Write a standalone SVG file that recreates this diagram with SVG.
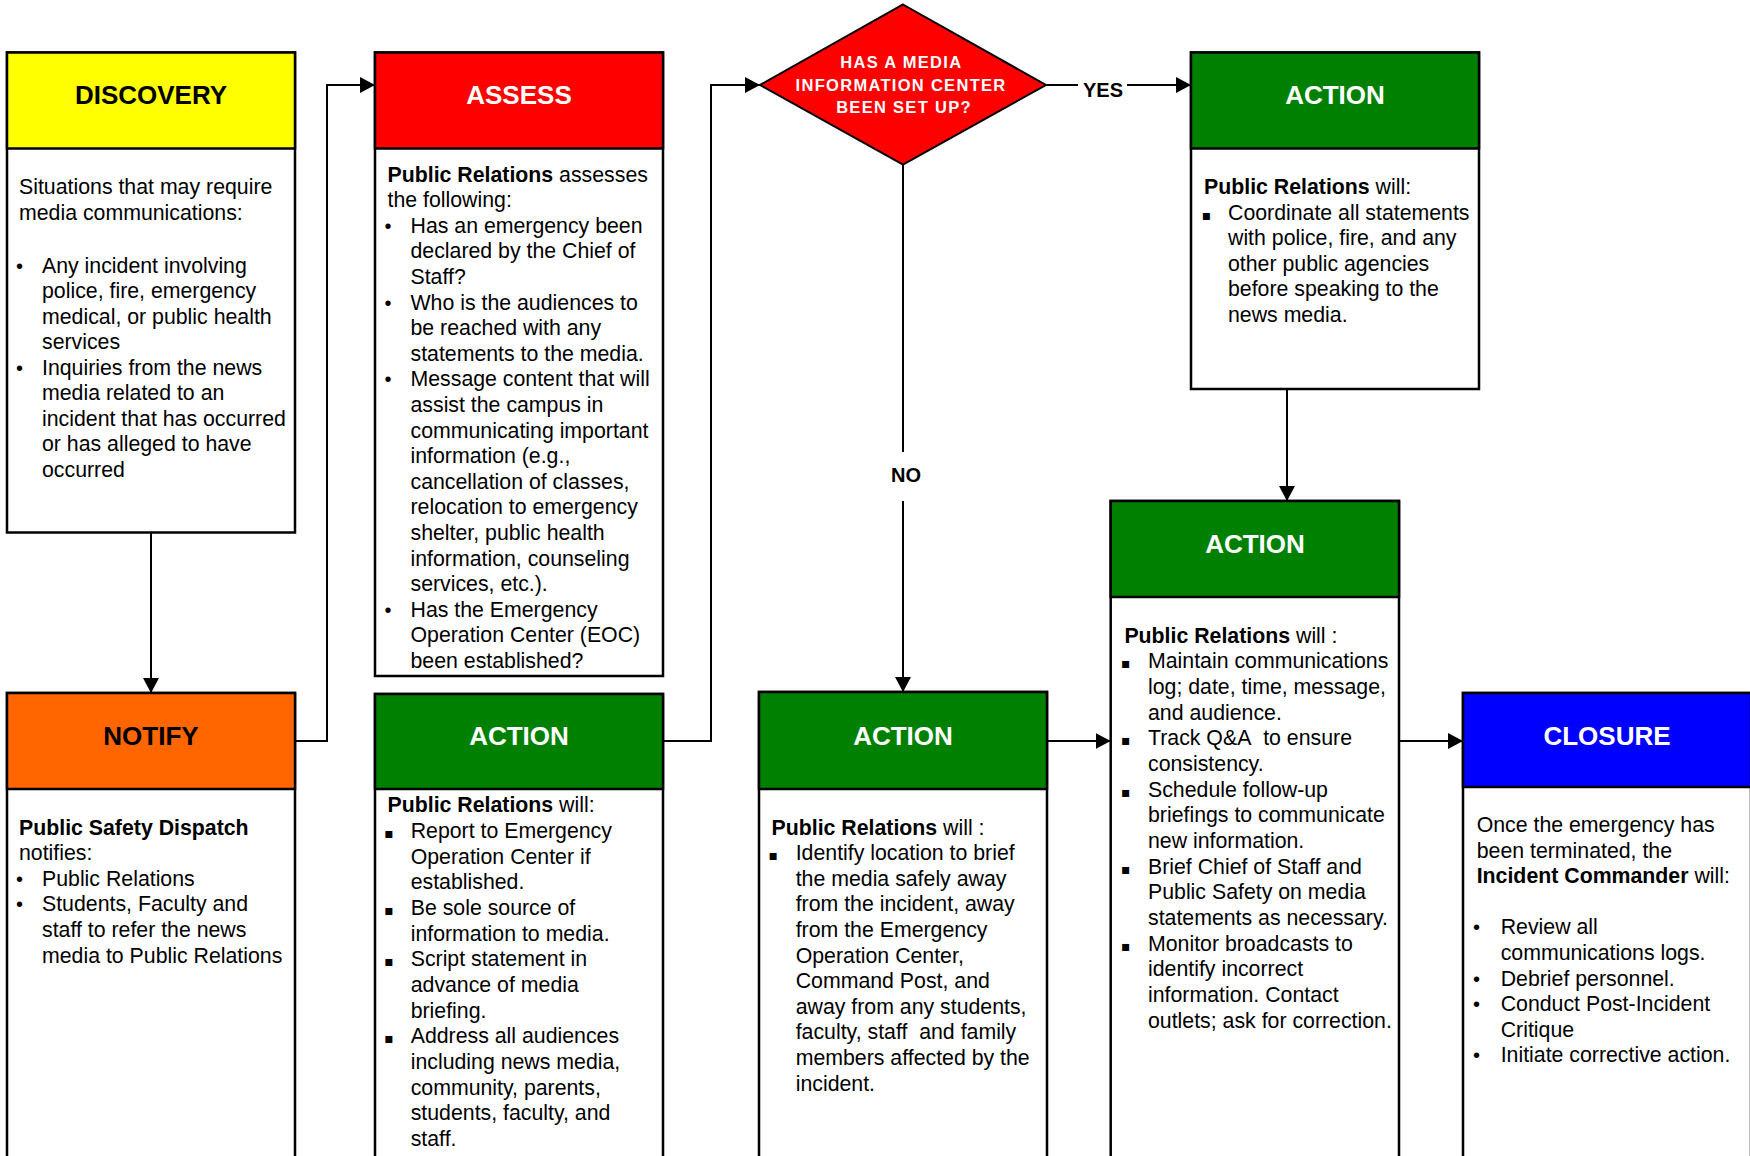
<svg xmlns="http://www.w3.org/2000/svg" width="1750" height="1156" viewBox="0 0 1750 1156">
  <style>
    .box { fill: #ffffff; stroke: #000000; stroke-width: 2.5; }
    .hdr { stroke: #000000; stroke-width: 2.5; }
    .yellow { fill: #ffff00; }
    .red { fill: #ff0000; }
    .green { fill: #008000; }
    .orange { fill: #ff6600; }
    .blue { fill: #0000ff; }
    .ht { font-family: "Liberation Sans", Arial, sans-serif; font-weight: bold; font-size: 26px; text-anchor: middle; }
    .dark { fill: #000000; }
    .light { fill: #ffffff; }
    .bt { font-family: "Liberation Sans", Arial, sans-serif; font-size: 21.3px; fill: #000000; }
    .b { font-weight: bold; }
    .dot { font-size: 20px; text-anchor: middle; }
    .sq { font-family: "DejaVu Sans", sans-serif; font-size: 14px; text-anchor: middle; }
    .dq { font-family: "Liberation Sans", Arial, sans-serif; font-weight: bold; font-size: 16.5px; letter-spacing: 1.3px; fill: #ffffff; text-anchor: middle; }
    .lbl { font-family: "Liberation Sans", Arial, sans-serif; font-weight: bold; font-size: 20px; fill: #000000; text-anchor: middle; }
    .conn { fill: none; stroke: #000000; stroke-width: 2; }
  </style>
  <defs>
    <marker id="arr" markerUnits="userSpaceOnUse" markerWidth="16" markerHeight="16" refX="15" refY="8" orient="auto">
      <path d="M0,0 L15,8 L0,16 z" fill="#000000"/>
    </marker>
  </defs>

  <rect width="1750" height="1156" fill="#ffffff"/>

  <!-- connectors -->
  <g id="connectors">
    <path class="conn" d="M151,532.5 V693" marker-end="url(#arr)"/>
    <path class="conn" d="M295,741 H327 V85 H375" marker-end="url(#arr)"/>
    <path class="conn" d="M663,741 H711 V85 H760" marker-end="url(#arr)"/>
    <path class="conn" d="M1046,85 H1078"/>
    <path class="conn" d="M1127,85 H1191" marker-end="url(#arr)"/>
    <text class="lbl" x="1103" y="97">YES</text>
    <path class="conn" d="M903,164.5 V452"/>
    <path class="conn" d="M903,501 V692" marker-end="url(#arr)"/>
    <text class="lbl" x="906" y="481.5">NO</text>
    <path class="conn" d="M1287,389 V501" marker-end="url(#arr)"/>
    <path class="conn" d="M1047,741 H1110.7" marker-end="url(#arr)"/>
    <path class="conn" d="M1399,741 H1463" marker-end="url(#arr)"/>
  </g>

  <!-- DISCOVERY -->
  <g id="discovery">
    <rect class="box" x="7" y="52.5" width="288" height="480"/>
    <rect class="hdr yellow" x="7" y="52.5" width="288" height="96"/>
    <text class="ht dark" x="151" y="104">DISCOVERY</text>
    <text class="bt">
      <tspan x="19" y="194">Situations that may require</tspan>
      <tspan x="19" y="219.6">media communications:</tspan>
      <tspan class="dot" x="22.5" y="272.5">•</tspan>
      <tspan x="42" y="272.5">Any incident involving</tspan>
      <tspan x="42" y="298">police, fire, emergency</tspan>
      <tspan x="42" y="323.5">medical, or public health</tspan>
      <tspan x="42" y="349">services</tspan>
      <tspan class="dot" x="22.5" y="374.6">•</tspan>
      <tspan x="42" y="374.6">Inquiries from the news</tspan>
      <tspan x="42" y="400.2">media related to an</tspan>
      <tspan x="42" y="425.8">incident that has occurred</tspan>
      <tspan x="42" y="451.4">or has alleged to have</tspan>
      <tspan x="42" y="477">occurred</tspan>
    </text>
  </g>

  <!-- ASSESS -->
  <g id="assess">
    <rect class="box" x="375" y="52.5" width="288" height="623.5"/>
    <rect class="hdr red" x="375" y="52.5" width="288" height="96"/>
    <text class="ht light" x="519" y="104">ASSESS</text>
    <text class="bt">
      <tspan x="387.5" y="181.5"><tspan class="b">Public Relations</tspan> assesses</tspan>
      <tspan x="387.5" y="207.1">the following:</tspan>
      <tspan class="dot" x="391" y="232.7">•</tspan>
      <tspan x="410.5" y="232.7">Has an emergency been</tspan>
      <tspan x="410.5" y="258.3">declared by the Chief of</tspan>
      <tspan x="410.5" y="283.9">Staff?</tspan>
      <tspan class="dot" x="391" y="309.5">•</tspan>
      <tspan x="410.5" y="309.5">Who is the audiences to</tspan>
      <tspan x="410.5" y="335.1">be reached with any</tspan>
      <tspan x="410.5" y="360.7">statements to the media.</tspan>
      <tspan class="dot" x="391" y="386.3">•</tspan>
      <tspan x="410.5" y="386.3">Message content that will</tspan>
      <tspan x="410.5" y="411.9">assist the campus in</tspan>
      <tspan x="410.5" y="437.5">communicating important</tspan>
      <tspan x="410.5" y="463.1">information (e.g.,</tspan>
      <tspan x="410.5" y="488.7">cancellation of classes,</tspan>
      <tspan x="410.5" y="514.3">relocation to emergency</tspan>
      <tspan x="410.5" y="539.9">shelter, public health</tspan>
      <tspan x="410.5" y="565.5">information, counseling</tspan>
      <tspan x="410.5" y="591.1">services, etc.).</tspan>
      <tspan class="dot" x="391" y="616.7">•</tspan>
      <tspan x="410.5" y="616.7">Has the Emergency</tspan>
      <tspan x="410.5" y="642.3">Operation Center (EOC)</tspan>
      <tspan x="410.5" y="667.9">been established?</tspan>
    </text>
  </g>

  <!-- decision -->
  <g id="decision">
    <polygon points="903,4.5 1046,85 903,164.5 760,85" fill="#ff0000" stroke="#000000" stroke-width="2"/>
    <text class="dq">
      <tspan x="904" y="68.3">HAS A MEDIA</tspan>
      <tspan x="904" y="90.7">INFORMATION CENTER</tspan>
      <tspan x="904" y="112.7">BEEN SET UP?</tspan>
    </text>
  </g>

  <!-- ACTION (yes branch) -->
  <g id="action-yes">
    <rect class="box" x="1191" y="52.5" width="288" height="336.5"/>
    <rect class="hdr green" x="1191" y="52.5" width="288" height="96"/>
    <text class="ht light" x="1335" y="104">ACTION</text>
    <text class="bt">
      <tspan x="1204" y="193.9"><tspan class="b">Public Relations</tspan> will:</tspan>
      <tspan class="sq" x="1209.4" y="219.6">▪</tspan>
      <tspan x="1228" y="219.6">Coordinate all statements</tspan>
      <tspan x="1228" y="245.2">with police, fire, and any</tspan>
      <tspan x="1228" y="270.8">other public agencies</tspan>
      <tspan x="1228" y="296.4">before speaking to the</tspan>
      <tspan x="1228" y="322">news media.</tspan>
    </text>
  </g>

  <!-- ACTION (ongoing) -->
  <g id="action-ongoing">
    <rect class="box" x="1110.7" y="501" width="288.3" height="680"/>
    <rect class="hdr green" x="1110.7" y="501" width="288.3" height="96"/>
    <text class="ht light" x="1255" y="552.7">ACTION</text>
    <text class="bt">
      <tspan x="1124.4" y="642.6"><tspan class="b">Public Relations</tspan> will :</tspan>
      <tspan class="sq" x="1128.7" y="668.3">▪</tspan>
      <tspan x="1148" y="668.3">Maintain communications</tspan>
      <tspan x="1148" y="693.9">log; date, time, message,</tspan>
      <tspan x="1148" y="719.6">and audience.</tspan>
      <tspan class="sq" x="1128.7" y="745.3">▪</tspan>
      <tspan x="1148" y="745.3">Track Q&amp;A&#160; to ensure</tspan>
      <tspan x="1148" y="770.9">consistency.</tspan>
      <tspan class="sq" x="1128.7" y="796.6">▪</tspan>
      <tspan x="1148" y="796.6">Schedule follow-up</tspan>
      <tspan x="1148" y="822.3">briefings to communicate</tspan>
      <tspan x="1148" y="848">new information.</tspan>
      <tspan class="sq" x="1128.7" y="873.6">▪</tspan>
      <tspan x="1148" y="873.6">Brief Chief of Staff and</tspan>
      <tspan x="1148" y="899.3">Public Safety on media</tspan>
      <tspan x="1148" y="925">statements as necessary.</tspan>
      <tspan class="sq" x="1128.7" y="950.6">▪</tspan>
      <tspan x="1148" y="950.6">Monitor broadcasts to</tspan>
      <tspan x="1148" y="976.3">identify incorrect</tspan>
      <tspan x="1148" y="1002">information. Contact</tspan>
      <tspan x="1148" y="1027.6">outlets; ask for correction.</tspan>
    </text>
  </g>

  <!-- NOTIFY -->
  <g id="notify">
    <rect class="box" x="7" y="693" width="288" height="490"/>
    <rect class="hdr orange" x="7" y="693" width="288" height="96"/>
    <text class="ht dark" x="151" y="745">NOTIFY</text>
    <text class="bt">
      <tspan class="b" x="19" y="834.6">Public Safety Dispatch</tspan>
      <tspan x="19" y="860.2">notifies:</tspan>
      <tspan class="dot" x="22.5" y="885.8">•</tspan>
      <tspan x="42" y="885.8">Public Relations</tspan>
      <tspan class="dot" x="22.5" y="911.4">•</tspan>
      <tspan x="42" y="911.4">Students, Faculty and</tspan>
      <tspan x="42" y="937">staff to refer the news</tspan>
      <tspan x="42" y="962.6">media to Public Relations</tspan>
    </text>
  </g>

  <!-- ACTION (media response) -->
  <g id="action-media">
    <rect class="box" x="375" y="694" width="288" height="490"/>
    <rect class="hdr green" x="375" y="694" width="288" height="95"/>
    <text class="ht light" x="519" y="745">ACTION</text>
    <text class="bt">
      <tspan x="387.5" y="812.2"><tspan class="b">Public Relations</tspan> will:</tspan>
      <tspan class="sq" x="392" y="837.9">▪</tspan>
      <tspan x="410.7" y="837.9">Report to Emergency</tspan>
      <tspan x="410.7" y="863.5">Operation Center if</tspan>
      <tspan x="410.7" y="889.2">established.</tspan>
      <tspan class="sq" x="392" y="914.9">▪</tspan>
      <tspan x="410.7" y="914.9">Be sole source of</tspan>
      <tspan x="410.7" y="940.5">information to media.</tspan>
      <tspan class="sq" x="392" y="966.2">▪</tspan>
      <tspan x="410.7" y="966.2">Script statement in</tspan>
      <tspan x="410.7" y="991.9">advance of media</tspan>
      <tspan x="410.7" y="1017.6">briefing.</tspan>
      <tspan class="sq" x="392" y="1043.2">▪</tspan>
      <tspan x="410.7" y="1043.2">Address all audiences</tspan>
      <tspan x="410.7" y="1068.9">including news media,</tspan>
      <tspan x="410.7" y="1094.6">community, parents,</tspan>
      <tspan x="410.7" y="1120.2">students, faculty, and</tspan>
      <tspan x="410.7" y="1145.9">staff.</tspan>
    </text>
  </g>

  <!-- ACTION (no branch) -->
  <g id="action-no">
    <rect class="box" x="759" y="692" width="288" height="490"/>
    <rect class="hdr green" x="759" y="692" width="288" height="97"/>
    <text class="ht light" x="903" y="745">ACTION</text>
    <text class="bt">
      <tspan x="771.5" y="834.6"><tspan class="b">Public Relations</tspan> will :</tspan>
      <tspan class="sq" x="776.3" y="860.2">▪</tspan>
      <tspan x="795.7" y="860.2">Identify location to brief</tspan>
      <tspan x="795.7" y="885.8">the media safely away</tspan>
      <tspan x="795.7" y="911.4">from the incident, away</tspan>
      <tspan x="795.7" y="937">from the Emergency</tspan>
      <tspan x="795.7" y="962.6">Operation Center,</tspan>
      <tspan x="795.7" y="988.2">Command Post, and</tspan>
      <tspan x="795.7" y="1013.8">away from any students,</tspan>
      <tspan x="795.7" y="1039.4">faculty, staff&#160; and family</tspan>
      <tspan x="795.7" y="1065">members affected by the</tspan>
      <tspan x="795.7" y="1090.6">incident.</tspan>
    </text>
  </g>

  <!-- CLOSURE -->
  <g id="closure">
    <rect class="box" x="1463" y="693" width="288" height="490"/>
    <rect class="hdr blue" x="1463" y="693" width="288" height="94"/>
    <text class="ht light" x="1607" y="744.5">CLOSURE</text>
    <text class="bt">
      <tspan x="1476.7" y="832">Once the emergency has</tspan>
      <tspan x="1476.7" y="857.6">been terminated, the</tspan>
      <tspan x="1476.7" y="883.2"><tspan class="b">Incident Commander</tspan> will:</tspan>
      <tspan class="dot" x="1479.5" y="934.4">•</tspan>
      <tspan x="1500.7" y="934.4">Review all</tspan>
      <tspan x="1500.7" y="960">communications logs.</tspan>
      <tspan class="dot" x="1479.5" y="985.6">•</tspan>
      <tspan x="1500.7" y="985.6">Debrief personnel.</tspan>
      <tspan class="dot" x="1479.5" y="1011.2">•</tspan>
      <tspan x="1500.7" y="1011.2">Conduct Post-Incident</tspan>
      <tspan x="1500.7" y="1036.8">Critique</tspan>
      <tspan class="dot" x="1479.5" y="1062.4">•</tspan>
      <tspan x="1500.7" y="1062.4">Initiate corrective action.</tspan>
    </text>
  </g>
</svg>
